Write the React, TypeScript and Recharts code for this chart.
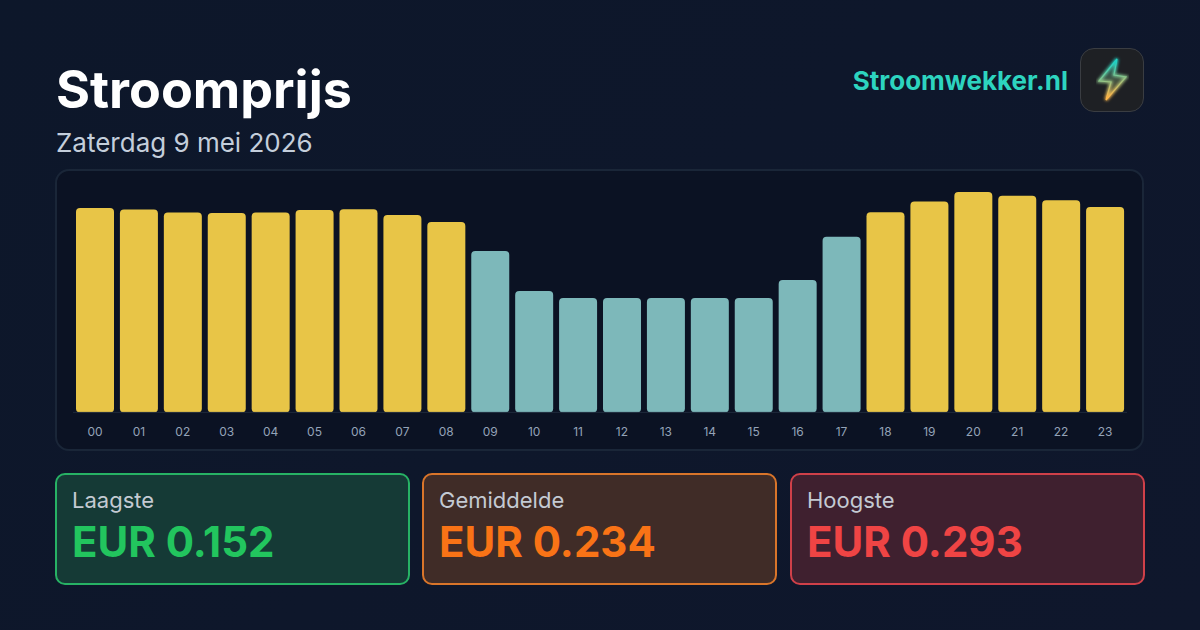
import React from "react";
import { BarChart, Bar, XAxis, YAxis, Cell } from "recharts";

const hours = ["00","01","02","03","04","05","06","07","08","09","10","11","12","13","14","15","16","17","18","19","20","21","22","23"];
const prices = [0.2716,0.2697,0.2656,0.265,0.2656,0.269,0.270,0.2625,0.253,0.2145,0.1615,0.152,0.152,0.152,0.152,0.152,0.176,0.2335,0.266,0.2805,0.293,0.288,0.282,0.273];
const average = 0.234;
const rows = hours.map((hour, i) => ({ hour, price: prices[i] }));
const stats = [
  { label: "Laagste", value: "EUR 0.152", color: "#22c55e", edge: "#27b265", bg: "#153a36", left: 55 },
  { label: "Gemiddelde", value: "EUR 0.234", color: "#f97316", edge: "#d9752a", bg: "#402c27", left: 422 },
  { label: "Hoogste", value: "EUR 0.293", color: "#ef4444", edge: "#cf4049", bg: "#3f202f", left: 790 },
];
const font = "Inter, sans-serif";
const bolt = "M36 10 L18 32 L30 33 L25 51 L45 28 L33 26 Z";
const abs = (s: React.CSSProperties): React.CSSProperties => ({ position: "absolute", ...s });

export default function App() {
  return (
    <div style={abs({ left: 0, top: 0, width: 1200, height: 630, overflow: "hidden", fontFamily: font, background: "linear-gradient(135deg,#0d172a 0%,#0f172c 100%)" })}>
      <div style={abs({ left: 56, top: 59, fontSize: 52, lineHeight: "62px", fontWeight: 700, color: "#ffffff", whiteSpace: "nowrap" })}>Stroomprijs</div>
      <div style={abs({ left: 56, top: 126, fontSize: 26, lineHeight: "33px", color: "#c4cedb", whiteSpace: "nowrap" })}>Zaterdag 9 mei 2026</div>
      <div style={abs({ right: 132, top: 64, fontSize: 26, lineHeight: "33px", fontWeight: 700, color: "#2dd4bf", whiteSpace: "nowrap" })}>Stroomwekker.nl</div>
      <div style={abs({ left: 1080, top: 48, width: 62, height: 62, borderRadius: 14, border: "1px solid #3a3d42", background: "#1e2024" })}>
        <svg width="62" height="62" viewBox="0 0 62 62" style={{ display: "block" }}>
          <defs>
            <linearGradient id="bolt" x1="0.45" y1="0" x2="0.55" y2="1">
              <stop offset="0.1" stopColor="#22d3c5" />
              <stop offset="0.9" stopColor="#fdb64a" />
            </linearGradient>
            <filter id="glow"><feGaussianBlur stdDeviation="1.4" /></filter>
          </defs>
          <path d={bolt} fill="none" stroke="url(#bolt)" strokeWidth="3" filter="url(#glow)" />
          <path d={bolt} fill="url(#bolt)" fillOpacity="0.3" stroke="url(#bolt)" strokeWidth="1.2" />
        </svg>
      </div>
      <div style={abs({ left: 55, top: 169, width: 1085, height: 278, borderRadius: 14, border: "2px solid #1a2638", background: "#0b1223" })} />
      <div style={abs({ left: 56, top: 170 })}>
        <BarChart width={1088} height={280} data={rows} margin={{ top: 0, right: 17, bottom: 0, left: 17 }} barCategoryGap={0}>
          <YAxis hide domain={[0, 0.293 * 242.4 / 220.4]} />
          <XAxis dataKey="hour" interval={0} height={37.6} stroke="#1f2a3c" tickLine={false} tickMargin={9} tick={{ fill: "#94a3b8", fontSize: 12, fontFamily: font }} />
          <Bar dataKey="price" barSize={38} radius={4} isAnimationActive={false}>
            {rows.map((r) => (
              <Cell key={r.hour} fill={r.price < average ? "#7db8ba" : "#e8c547"} />
            ))}
          </Bar>
        </BarChart>
      </div>
      {stats.map((s) => (
        <div key={s.label} style={abs({ left: s.left, top: 473, width: 351, height: 108, borderRadius: 10, border: `2px solid ${s.edge}`, background: s.bg })}>
          <div style={abs({ left: 15, top: 12, fontSize: 22, lineHeight: "26px", fontWeight: 400, color: "#c4cad3", whiteSpace: "nowrap" })}>{s.label}</div>
          <div style={abs({ left: 15, top: 41, fontSize: 42, lineHeight: "52px", fontWeight: 700, color: s.color, whiteSpace: "nowrap" })}>{s.value}</div>
        </div>
      ))}
    </div>
  );
}
